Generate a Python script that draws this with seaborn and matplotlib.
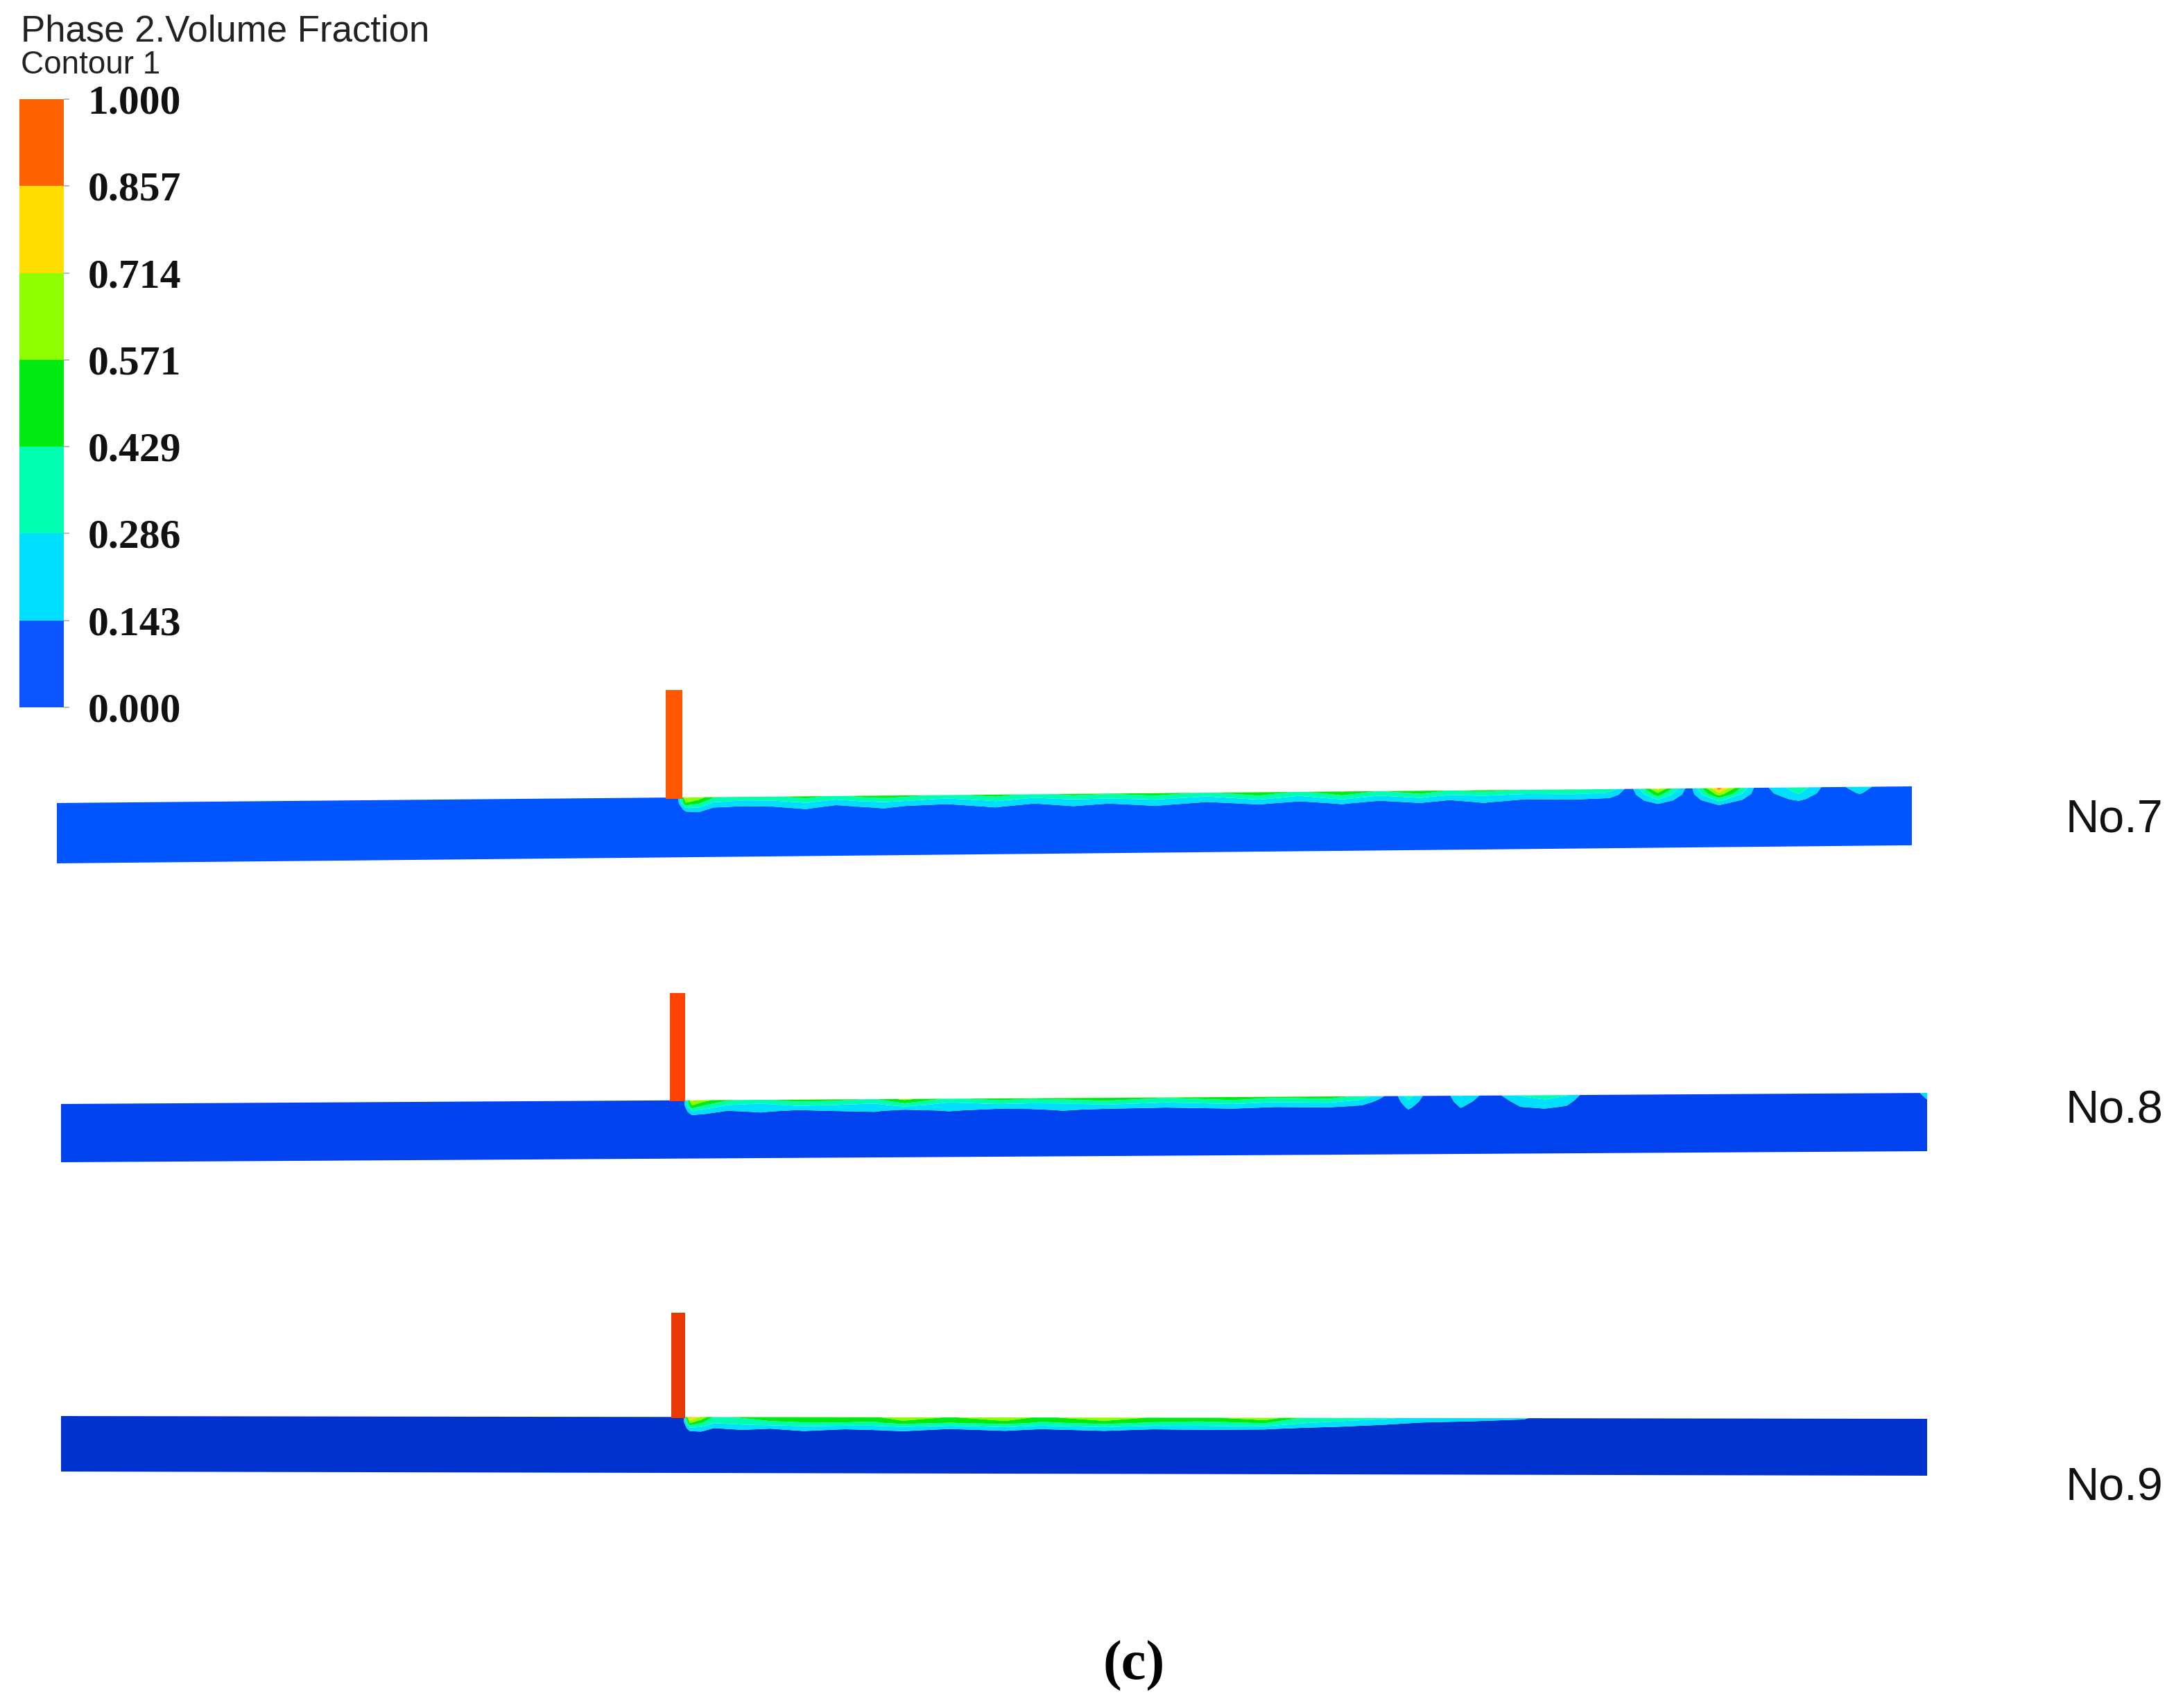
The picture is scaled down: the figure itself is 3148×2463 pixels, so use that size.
import numpy as np
import pandas as pd
import matplotlib
matplotlib.use("Agg")
import matplotlib.pyplot as plt
from matplotlib.colors import ListedColormap
import seaborn as sns

# ---------------------------------------------------------------- data
legend_title = "Phase 2.Volume Fraction"
legend_subtitle = "Contour 1"
legend_levels = [0.000, 0.143, 0.286, 0.429, 0.571, 0.714, 0.857, 1.000]
legend_labels = ["0.000", "0.143", "0.286", "0.429", "0.571", "0.714", "0.857", "1.000"]
case_names = ["No.7", "No.8", "No.9"]
panel_label = "(c)"

nozzle_fraction = 1.0                      # injected phase inside the nozzle
depth_rows = [0.0, 0.1, 0.2, 0.3, 1.0]     # sample depth below the top wall (fraction of thickness)

# station positions along the pipe (% of length) and volume fraction at each depth row
pos7 = [0.0, 33.4, 33.9, 34.6, 35.4, 37.0, 38.6, 40.4, 42.0, 43.4, 44.6, 45.8, 48.0, 50.6, 52.7,
        54.8, 56.7, 59.2, 62.0, 64.8, 67.0, 69.3, 71.3, 73.5, 75.1, 76.9, 79.2, 81.8, 83.7, 84.8,
        86.3, 88.0, 89.6, 91.7, 93.9, 95.6, 97.2, 98.6, 100.0]
top7 = [0.0, 0.0, 0.74, 0.66, 0.45, 0.38, 0.40, 0.50, 0.38, 0.48, 0.52, 0.48, 0.38, 0.50, 0.38,
        0.48, 0.44, 0.52, 0.40, 0.56, 0.40, 0.58, 0.42, 0.54, 0.42, 0.48, 0.42, 0.44, 0.38, 0.06,
        0.76, 0.05, 0.93, 0.05, 0.40, 0.04, 0.24, 0.03, 0.03]
mid7 = [0.0, 0.0, 0.55, 0.45, 0.26, 0.22, 0.23, 0.30, 0.22, 0.27, 0.30, 0.27, 0.21, 0.30, 0.22,
        0.27, 0.25, 0.30, 0.22, 0.33, 0.23, 0.35, 0.24, 0.32, 0.24, 0.27, 0.23, 0.25, 0.22, 0.04,
        0.50, 0.04, 0.65, 0.04, 0.30, 0.03, 0.16, 0.02, 0.02]
deep7 = [0.0, 0.0, 0.20, 0.22, 0.10, 0.08, 0.10, 0.16, 0.07, 0.12, 0.16, 0.10, 0.08, 0.16, 0.08,
         0.15, 0.09, 0.16, 0.08, 0.15, 0.08, 0.16, 0.08, 0.15, 0.08, 0.16, 0.08, 0.10, 0.07, 0.02,
         0.26, 0.02, 0.33, 0.02, 0.18, 0.01, 0.08, 0.0, 0.0]
bot7 = [0.0, 0.0, 0.04, 0.06, 0.02, 0.02, 0.02, 0.04, 0.01, 0.03, 0.04, 0.02, 0.02, 0.04, 0.02,
        0.03, 0.02, 0.04, 0.02, 0.04, 0.02, 0.04, 0.02, 0.04, 0.02, 0.04, 0.02, 0.02, 0.01, 0.0,
        0.06, 0.0, 0.12, 0.0, 0.04, 0.0, 0.0, 0.0, 0.0]

pos8 = [0.0, 33.3, 33.8, 34.5, 35.7, 37.5, 39.5, 41.3, 43.6, 45.2, 47.6, 50.3, 51.9, 53.7, 56.0,
        59.2, 62.8, 65.1, 67.9, 69.7, 70.6, 71.4, 72.2, 73.3, 74.1, 75.0, 76.6, 78.2, 79.5, 80.7,
        81.8, 83.0, 99.0, 100.0]
top8 = [0.0, 0.0, 0.74, 0.62, 0.45, 0.40, 0.50, 0.48, 0.42, 0.62, 0.40, 0.50, 0.45, 0.48, 0.55,
        0.44, 0.55, 0.46, 0.52, 0.38, 0.20, 0.05, 0.36, 0.05, 0.04, 0.30, 0.05, 0.30, 0.36, 0.30,
        0.05, 0.02, 0.02, 0.22]
mid8 = [0.0, 0.0, 0.55, 0.40, 0.26, 0.22, 0.30, 0.28, 0.24, 0.36, 0.22, 0.28, 0.26, 0.27, 0.32,
        0.26, 0.32, 0.27, 0.30, 0.22, 0.10, 0.03, 0.26, 0.03, 0.03, 0.22, 0.03, 0.20, 0.26, 0.20,
        0.03, 0.01, 0.01, 0.15]
deep8 = [0.0, 0.0, 0.25, 0.20, 0.12, 0.16, 0.10, 0.14, 0.16, 0.10, 0.16, 0.10, 0.12, 0.16, 0.12,
         0.10, 0.14, 0.10, 0.12, 0.08, 0.03, 0.01, 0.17, 0.01, 0.01, 0.15, 0.01, 0.14, 0.17, 0.13,
         0.01, 0.0, 0.0, 0.08]
bot8 = [0.0, 0.0, 0.05, 0.05, 0.02, 0.06, 0.02, 0.04, 0.06, 0.02, 0.05, 0.02, 0.03, 0.06, 0.03,
        0.02, 0.04, 0.02, 0.03, 0.02, 0.0, 0.0, 0.08, 0.0, 0.0, 0.06, 0.0, 0.05, 0.08, 0.05,
        0.0, 0.0, 0.0, 0.0]

pos9 = [0.0, 33.3, 33.7, 34.3, 35.0, 36.5, 38.0, 39.8, 42.0, 43.5, 45.1, 47.6, 50.6, 52.5, 55.9,
        58.5, 61.0, 64.5, 66.5, 68.5, 70.9, 73.0, 75.5, 78.4, 80.0, 100.0]
top9 = [0.0, 0.0, 0.88, 0.70, 0.40, 0.45, 0.50, 0.55, 0.55, 0.52, 0.72, 0.55, 0.72, 0.52, 0.72,
        0.55, 0.52, 0.68, 0.42, 0.38, 0.32, 0.22, 0.20, 0.16, 0.04, 0.03]
mid9 = [0.0, 0.0, 0.60, 0.45, 0.30, 0.34, 0.40, 0.42, 0.42, 0.40, 0.48, 0.42, 0.48, 0.40, 0.46,
        0.40, 0.38, 0.42, 0.28, 0.22, 0.16, 0.12, 0.10, 0.08, 0.02, 0.0]
deep9 = [0.0, 0.0, 0.25, 0.24, 0.14, 0.18, 0.15, 0.20, 0.16, 0.18, 0.20, 0.15, 0.20, 0.15, 0.20,
         0.15, 0.16, 0.15, 0.10, 0.08, 0.07, 0.05, 0.06, 0.04, 0.0, 0.0]
bot9 = [0.0, 0.0, 0.05, 0.08, 0.03, 0.05, 0.04, 0.08, 0.04, 0.04, 0.08, 0.03, 0.05, 0.03, 0.04,
        0.03, 0.04, 0.03, 0.02, 0.02, 0.01, 0.01, 0.02, 0.01, 0.0, 0.0]

cases = [
    (pos7, [top7, mid7, deep7, bot7]),
    (pos8, [top8, mid8, deep8, bot8]),
    (pos9, [top9, mid9, deep9, bot9]),
]

# ---------------------------------------------------------------- style / layout
W, H = 3148, 2463
legend_colors = ["#0A55FF", "#00DFFF", "#00FFB0", "#00EC10", "#8EFF00", "#FFDD00", "#FF6200"]
panel_water = ["#0055FF", "#0042EE", "#0032D0"]
panel_nozzle = ["#FF5800", "#FF4200", "#E83A00"]

# pipe geometry in figure pixels (xl, xr: ends; yb: bottom-left; t: thickness)
geoms = [
    dict(xl=82, xr=2757, yb=1245, t=87, rise_b=0.30, rise_t=0.276, nz=(32.82, 33.72), nz_top=2.87, lab_y=1200),
    dict(xl=88, xr=2779, yb=1676, t=84, rise_b=0.19, rise_t=0.19, nz=(32.63, 33.45), nz_top=2.90, lab_y=1620),
    dict(xl=88, xr=2779, yb=2122, t=80, rise_b=-0.075, rise_t=-0.05, nz=(32.70, 33.45), nz_top=2.86, lab_y=2163),
]

sns.set_style("white")
plt.rcParams["font.family"] = ["Liberation Sans", "DejaVu Sans"]

fig = plt.figure(figsize=(W / 100, H / 100), dpi=100)
fig.patch.set_facecolor("white")


def fx(px):
    return px / W


def fy(py):
    return 1 - py / H


# ---------------------------------------------------------------- legend bar (seaborn heatmap)
bar_x0, bar_x1, bar_y0, bar_y1 = 28, 92, 143, 1020
cax = fig.add_axes([fx(bar_x0), fy(bar_y1), fx(bar_x1 - bar_x0), (bar_y1 - bar_y0) / H])
mids = [(legend_levels[i] + legend_levels[i + 1]) / 2 for i in range(7)]
bar_df = pd.DataFrame({"v": mids[::-1]})
sns.heatmap(bar_df, ax=cax, cmap=ListedColormap(legend_colors), vmin=0, vmax=1,
            cbar=False, xticklabels=False, yticklabels=False, linewidths=0)
cax.yaxis.tick_right()
cax.set_yticks(np.arange(8))
cax.set_yticklabels(legend_labels[::-1], fontfamily="Liberation Serif", fontweight="bold",
                    fontsize=43, color="#111111")
cax.tick_params(axis="y", right=True, left=False, length=6, width=1.2, color="#aaaaaa", pad=19)
cax.set_ylabel("")
cax.set_xlabel("")
for sp in cax.spines.values():
    sp.set_visible(False)

fig.text(fx(30), fy(60), legend_title, fontsize=38, color="#222222", ha="left", va="baseline")
fig.text(fx(30), fy(106), legend_subtitle, fontsize=33, color="#222222", ha="left", va="baseline")

# ---------------------------------------------------------------- pipes
ylo, yhi = -0.5, 3.2
for k, ((pos, rows), g) in enumerate(zip(cases, geoms)):
    ax = fig.add_axes([fx(g["xl"]), fy(g["yb"] - ylo * g["t"]), fx(g["xr"] - g["xl"]),
                       (yhi - ylo) * g["t"] / H])
    ax.set_xlim(0, 100)
    ax.set_ylim(ylo, yhi)
    ax.axis("off")
    cols = list(legend_colors)
    cols[0] = panel_water[k]
    cols[-1] = panel_nozzle[k]
    cmap = ListedColormap(cols)

    s = np.asarray(pos, dtype=float)
    top = 1.0 + g["rise_t"] * s / 100.0
    bot = g["rise_b"] * s / 100.0
    thick = top - bot
    d = np.asarray(depth_rows)[:, None]
    X = np.repeat(s[None, :], len(depth_rows), axis=0)
    Y = top[None, :] - d * thick[None, :]
    Z = np.vstack([np.asarray(r, dtype=float) for r in rows] + [np.zeros(len(s))])
    ax.contourf(X, Y, Z, levels=legend_levels, cmap=cmap, vmin=0, vmax=1, antialiased=True)

    # nozzle
    n0, n1 = g["nz"]
    ntop_base = 1.0 + g["rise_t"] * n0 / 100.0
    ax.pcolormesh([n0, n1], [ntop_base - 0.02, g["nz_top"]], [[nozzle_fraction]],
                  cmap=cmap, vmin=0, vmax=1, shading="flat")

    fig.text(fx(2979), fy(g["lab_y"]), case_names[k], fontsize=48, color="#111111",
             ha="left", va="baseline")

fig.text(fx(1635), fy(2422), panel_label, fontsize=58, fontfamily="Liberation Serif",
         fontweight="bold", ha="center", va="baseline", color="#000000")

fig.savefig("out.png", dpi=100, facecolor="white")
